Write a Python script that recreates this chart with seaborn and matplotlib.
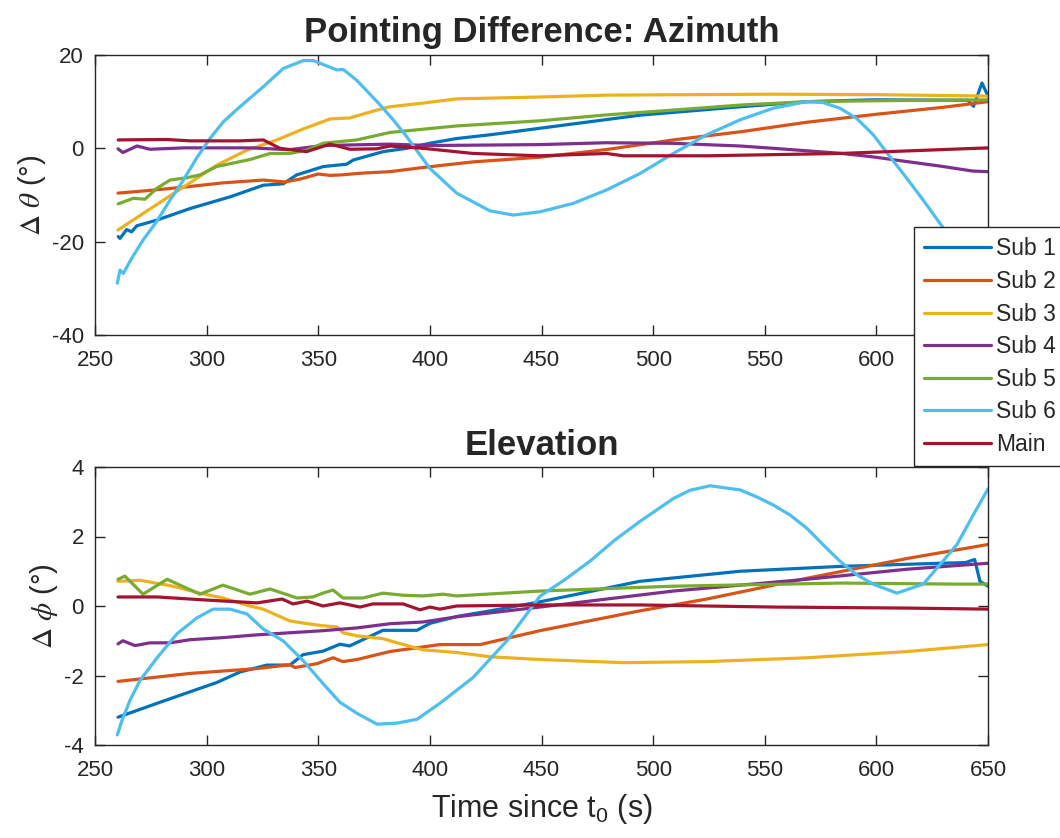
import numpy as np
import pandas as pd
import matplotlib
matplotlib.use("Agg")
import matplotlib.pyplot as plt
import seaborn as sns

# ---------------- data ----------------
SERIES = ["Sub 1", "Sub 2", "Sub 3", "Sub 4", "Sub 5", "Sub 6", "Main"]
COLORS = ["#0072BD", "#D95319", "#EDB120", "#7E2F8E", "#77AC30", "#4DBEEE", "#A2142F"]

# Azimuth (top panel)
az_t_sub1 = [260.4, 261.2, 264.2, 266.4, 268.7, 277.6, 292.6, 310.5, 325.4, 334.3, 340.3, 352.3, 362.7, 365.7,
             379.1, 389.6, 400, 412, 426.9, 449.3, 494, 539, 569, 598.5, 641, 643.5, 647.3, 650]
az_sub1 = [-18.9, -19.3, -17.4, -17.9, -16.6, -15.4, -12.9, -10.4, -7.9, -7.6, -5.7, -3.9, -3.4, -2.5,
           -0.7, 0.0, 1.1, 2.1, 2.9, 4.3, 7.1, 8.9, 10.0, 10.4, 10.3, 9.0, 14.0, 11.2]

az_t_sub2 = [260.3, 275, 290, 307.3, 325.3, 335, 341.8, 350, 355.3, 360, 370, 382.1, 397, 419.4, 449.3,
             480, 509, 540, 569, 600, 630, 650]
az_sub2 = [-9.6, -9.0, -8.3, -7.4, -6.8, -7.2, -6.6, -5.5, -5.8, -5.7, -5.3, -5.0, -4.1, -2.9, -1.9,
           -0.2, 1.8, 3.6, 5.6, 7.3, 8.8, 10.0]

az_t_sub3 = [260.3, 277.8, 304.6, 318, 331.5, 343, 355.3, 364, 376.3, 382, 397, 412, 449.3, 479, 554, 600, 650]
az_sub3 = [-17.5, -12.0, -3.6, -0.4, 1.8, 4.1, 6.3, 6.5, 8.2, 8.9, 9.7, 10.6, 11.0, 11.4, 11.6, 11.5, 11.2]

az_t_sub4 = [260.3, 262.5, 268.8, 274.6, 290, 320, 337, 352, 382, 400, 449.3, 479, 509, 539, 554, 584,
             598, 614, 628.5, 643, 650]
az_sub4 = [-0.1, -0.9, 0.5, -0.2, 0.1, 0.1, -0.3, 0.6, 0.9, 0.6, 0.8, 1.2, 1.07, 0.5, 0.0, -1.07,
           -1.8, -2.86, -3.8, -4.86, -5.0]

az_t_sub5 = [260.4, 267.2, 272.4, 277.6, 283.6, 291.1, 297, 304.5, 319.4, 328.4, 337.3, 344.8, 352.3, 367.2,
             382.1, 397, 412, 449.3, 480, 509, 540, 569, 600, 650]
az_sub5 = [-11.9, -10.7, -10.9, -8.6, -6.8, -6.3, -5.7, -3.9, -2.4, -1.1, -1.1, -0.4, 1.1, 1.8,
           3.4, 4.1, 4.8, 5.9, 7.2, 8.2, 9.3, 10.0, 10.2, 10.4]

az_t_sub6 = [260, 261.2, 262.7, 266.4, 271.6, 277.6, 283.6, 289.6, 295.5, 301.5, 307.5, 314.9, 325.4, 334.3,
             343.3, 347.8, 358.3, 361.2, 367.2, 371.4, 377.7, 383.6, 389.6, 400, 412, 426.9, 437.4, 449.3,
             464.2, 479.2, 494.1, 509, 524, 538.9, 553.8, 568.8, 576.2, 583.7, 591.2, 598.6, 606.1, 613.6,
             621, 630, 640, 650]
az_sub6 = [-28.9, -26.1, -26.8, -23.6, -19.6, -15.7, -11.1, -6.8, -2.1, 2.1, 5.7, 8.9, 13.2, 17.1,
           18.8, 18.8, 16.8, 16.9, 14.6, 12.5, 9.3, 6.1, 2.5, -4.3, -9.6, -13.4, -14.3, -13.6,
           -11.8, -8.9, -5.4, -1.1, 2.9, 6.1, 8.6, 10.0, 9.8, 8.6, 6.4, 2.9, -1.8, -6.4,
           -11.1, -17.1, -24.0, -30.0]

az_t_main = [260.4, 282.1, 292.6, 314.9, 325.4, 332.9, 344.8, 355.3, 364.2, 376.2, 382.1, 397, 419.4, 449.3,
             479.2, 486.6, 524, 583.7, 650]
az_main = [1.8, 1.9, 1.6, 1.6, 1.8, 0.0, -0.7, 0.9, -0.2, -0.1, 0.5, 0.0, -1.1, -1.6,
           -1.1, -1.6, -1.6, -1.1, 0.1]

# Elevation (bottom panel)
el_t_sub1 = [260.3, 277.8, 304.6, 314.9, 327, 337.3, 343.2, 352.1, 359.7, 364, 379, 394.2, 400, 412.2,
             426.9, 449.3, 494, 539, 584, 628.5, 640, 644, 646.4, 650]
el_sub1 = [-3.2, -2.8, -2.2, -1.9, -1.7, -1.7, -1.4, -1.3, -1.1, -1.15, -0.7, -0.7, -0.5, -0.3,
           -0.14, 0.12, 0.71, 1.0, 1.14, 1.23, 1.25, 1.34, 0.71, 0.57]

el_t_sub2 = [260.3, 292.6, 322.6, 337.3, 339.6, 349.4, 356.6, 361, 367.4, 382.1, 404.5, 422.5, 449.3,
             494, 524, 569, 614, 650]
el_sub2 = [-2.17, -1.94, -1.8, -1.69, -1.77, -1.66, -1.49, -1.6, -1.54, -1.31, -1.11, -1.11, -0.71,
           -0.14, 0.2, 0.8, 1.37, 1.77]

el_t_sub3 = [260.3, 270.2, 284.9, 297, 307.3, 319.4, 325.3, 337.3, 343.2, 352.1, 358.4, 361.1, 367.4, 379,
             385.3, 396.9, 412.2, 426.9, 449.3, 486.5, 524, 569, 614, 650]
el_sub3 = [0.71, 0.74, 0.57, 0.37, 0.23, 0.0, -0.09, -0.43, -0.49, -0.57, -0.6, -0.77, -0.86, -0.94,
           -1.06, -1.26, -1.34, -1.46, -1.54, -1.63, -1.6, -1.49, -1.31, -1.11]

el_t_sub4 = [260.3, 262.5, 267.9, 274.6, 283.6, 292.6, 307.3, 322.6, 337.3, 352.1, 367.4, 382.1, 396.9,
             412.2, 449.3, 509, 569, 614, 650]
el_sub4 = [-1.09, -1.0, -1.14, -1.06, -1.06, -0.97, -0.91, -0.83, -0.77, -0.71, -0.63, -0.51, -0.46,
           -0.31, -0.03, 0.43, 0.77, 1.06, 1.23]

el_t_sub5 = [260.3, 263.4, 271.5, 282.3, 297, 307.3, 319.4, 328.4, 340.5, 347.6, 352.1, 356.6, 361.1, 370,
             379, 388, 396.9, 405.9, 412, 449.3, 509, 584, 636, 650]
el_sub5 = [0.77, 0.86, 0.34, 0.77, 0.34, 0.6, 0.34, 0.49, 0.23, 0.26, 0.37, 0.46, 0.23, 0.23,
           0.37, 0.31, 0.29, 0.34, 0.29, 0.43, 0.57, 0.66, 0.63, 0.63]

el_t_sub6 = [260, 262.1, 265.7, 270.2, 277.8, 286.7, 295.7, 302.9, 310.5, 318.1, 325.3, 334.2, 343.2, 352.1,
             359.7, 367.4, 376.3, 385.3, 394.2, 404.5, 419.3, 434.5, 449.3, 460.5, 471.7, 482.9, 494, 509,
             516.5, 525.5, 539, 546.4, 553.7, 561.3, 569, 576.2, 583.7, 591.2, 598.5, 609.2, 621, 628.5,
             636.1, 643.4, 650]
el_sub6 = [-3.71, -3.29, -2.71, -2.14, -1.49, -0.8, -0.34, -0.09, -0.09, -0.23, -0.66, -1.0, -1.57, -2.23,
           -2.77, -3.09, -3.4, -3.37, -3.26, -2.8, -2.06, -1.0, 0.28, 0.76, 1.29, 1.9, 2.43, 3.09,
           3.33, 3.46, 3.34, 3.14, 2.91, 2.62, 2.23, 1.76, 1.29, 0.9, 0.63, 0.37, 0.63, 1.19,
           1.77, 2.62, 3.37]

el_t_main = [260.3, 277.8, 300.2, 322.6, 333.8, 338.7, 345, 352.1, 359.7, 368.7, 374.5, 388, 395.6, 400,
             404.5, 412, 449.3, 494, 554, 614, 650]
el_main = [0.26, 0.26, 0.17, 0.09, 0.2, 0.06, 0.14, 0.0, 0.09, -0.03, 0.06, 0.06, -0.11, -0.03,
           -0.09, 0.0, 0.03, 0.03, -0.03, -0.06, -0.09]

X_TICKS = [250, 300, 350, 400, 450, 500, 550, 600, 650]
AZ_TICKS = [-40, -20, 0, 20]
EL_TICKS = [-4, -2, 0, 2, 4]


def long_frame(pairs):
    frames = []
    for name, (t, v) in zip(SERIES, pairs):
        frames.append(pd.DataFrame({"t": t, "v": v, "series": name}))
    return pd.concat(frames, ignore_index=True)


df_az = long_frame([(az_t_sub1, az_sub1), (az_t_sub2, az_sub2), (az_t_sub3, az_sub3), (az_t_sub4, az_sub4),
                    (az_t_sub5, az_sub5), (az_t_sub6, az_sub6), (az_t_main, az_main)])
df_el = long_frame([(el_t_sub1, el_sub1), (el_t_sub2, el_sub2), (el_t_sub3, el_sub3), (el_t_sub4, el_sub4),
                    (el_t_sub5, el_sub5), (el_t_sub6, el_sub6), (el_t_main, el_main)])

# ---------------- style ----------------
sns.set_theme(style="white")
plt.rcParams["font.family"] = ["Liberation Sans", "DejaVu Sans"]
plt.rcParams["mathtext.fontset"] = "custom"
plt.rcParams["mathtext.rm"] = "Liberation Sans"
plt.rcParams["mathtext.it"] = "Liberation Sans:italic"
plt.rcParams["axes.unicode_minus"] = False

EDGE = "#262626"
W, H = 1060, 838
fig = plt.figure(figsize=(W / 100, H / 100), dpi=100)
ax1 = fig.add_axes([95 / W, 1 - 335 / H, 893 / W, 280 / H])
ax2 = fig.add_axes([95 / W, 1 - 745 / H, 893 / W, 278 / H])

for ax, df in ((ax1, df_az), (ax2, df_el)):
    sns.lineplot(data=df, x="t", y="v", hue="series", hue_order=SERIES, palette=COLORS,
                 estimator=None, sort=False, lw=2.3, ax=ax, legend=False)
    ax.set_xlim(250, 650)
    ax.set_xticks(X_TICKS)
    ax.set_xlabel("")
    for sp in ax.spines.values():
        sp.set_visible(True)
        sp.set_color(EDGE)
        sp.set_linewidth(1.0)
    ax.tick_params(direction="in", length=7, width=1.0, color=EDGE, labelsize=16,
                   labelcolor="#262626", top=True, right=True, bottom=True, left=True)
    ax.tick_params(axis="x", pad=10.5)
    ax.tick_params(axis="y", pad=8)
    ax.grid(False)

ax1.set_ylim(-40, 20)
ax1.set_yticks(AZ_TICKS)
ax2.set_ylim(-4, 4)
ax2.set_yticks(EL_TICKS)

# the last top-panel tick label sits behind the legend in the reference
ax1.set_xticklabels([str(v) for v in X_TICKS[:-1]] + [""])

ax1.set_title("Pointing Difference: Azimuth", fontsize=25, fontweight="bold", pad=9)
ax2.set_title("Elevation", fontsize=25, fontweight="bold", pad=9)

ax1.set_ylabel(r"$\Delta\ \theta$ (°)", fontsize=21, math_fontfamily="stix", labelpad=3)
ax2.set_ylabel(r"$\Delta\ \phi$ (°)", fontsize=21, math_fontfamily="stix", labelpad=3)
ax2.set_xlabel(r"Time since t$_\mathrm{0}$ (s)", fontsize=22, labelpad=8)

handles = ax1.get_lines()[:len(SERIES)]
fig.legend(handles, SERIES, loc="upper left", bbox_to_anchor=(914 / W, 1 - 227 / H),
           frameon=True, fancybox=False, edgecolor=EDGE, facecolor="white", framealpha=1,
           fontsize=16.5, handlelength=2.9, labelspacing=0.42, borderpad=0.45,
           handletextpad=0.25, borderaxespad=0)

fig.savefig("out.png", dpi=100)
